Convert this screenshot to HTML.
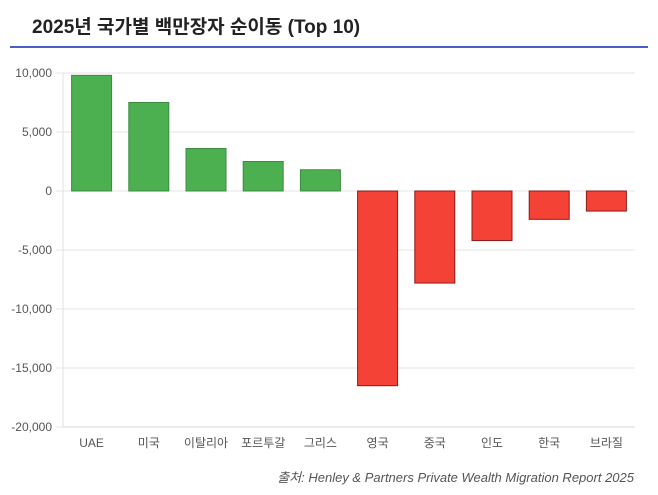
<!DOCTYPE html>
<html><head><meta charset="utf-8"><style>
body{margin:0;background:#fff;width:658px;height:495px;overflow:hidden;font-family:"Liberation Sans","Noto Sans CJK KR",sans-serif}
#title{position:absolute;left:32px;top:12px;font-size:19px;font-weight:bold;color:#222;font-family:"Liberation Sans","Noto Sans CJK KR",sans-serif}
#rule{position:absolute;left:10px;top:46px;width:638px;height:2px;background:#4a5ccc}
#src{position:absolute;right:24px;top:467px;font-size:13px;font-style:italic;color:#555}
svg{position:absolute;left:0;top:0}
</style></head><body>
<div id="title">2025년 국가별 백만장자 순이동 (Top 10)</div>
<div id="rule"></div>
<svg id="chart" width="658" height="495"></svg>
<div id="src">출처: Henley &amp; Partners Private Wealth Migration Report 2025</div>
<script>
const categories=["UAE","미국","이탈리아","포르투갈","그리스","영국","중국","인도","한국","브라질"];
const values=[9800,7500,3600,2500,1800,-16500,-7800,-4200,-2400,-1700];
const ticks=[10000,5000,0,-5000,-10000,-15000,-20000];
const tickLabels=["10,000","5,000","0","-5,000","-10,000","-15,000","-20,000"];
const NS="http://www.w3.org/2000/svg";
const svg=document.getElementById('chart');
const x0=63,x1=635,yTop=73,yBot=427,vMax=10000,vMin=-20000;
const y=v=>yTop+(vMax-v)/(vMax-vMin)*(yBot-yTop);
const bw=(x1-x0)/categories.length;
function mk(t,a){const e=document.createElementNS(NS,t);for(const k in a)e.setAttribute(k,a[k]);svg.appendChild(e);return e;}
ticks.forEach((t,i)=>{
  const g=mk('line',{x1:x0-7,x2:x1,y1:y(t),y2:y(t),stroke:'#e6e6e6','stroke-width':1});
  
  
  const l=mk('text',{x:x0-11,y:y(t)+4,'text-anchor':'end','font-size':12,fill:'#555'});
  l.textContent=tickLabels[i];
  
  
});
const ax=mk('line',{x1:x0,x2:x0,y1:yTop,y2:yBot,stroke:'#e0e0e0'});


const bx=mk('line',{x1:x0,x2:x1,y1:yBot,y2:yBot,stroke:'#d8d8d8'});


categories.forEach((c,i)=>{
  const v=values[i],cx=x0+bw*(i+0.5),w=40;
  const top=v>=0?y(v):y(0),h=Math.abs(y(v)-y(0));
  const r=mk('rect',{x:cx-w/2,y:top,width:w,height:h,fill:v>=0?'#4caf50':'#f44336',stroke:v>=0?'#3d8b40':'#8b1a1a','stroke-width':1});
  
  
  const t=mk('text',{x:cx,y:yBot+20,'text-anchor':'middle','font-size':12,fill:'#555'});
  t.textContent=c;
  
  
});
</script>
</body></html>
